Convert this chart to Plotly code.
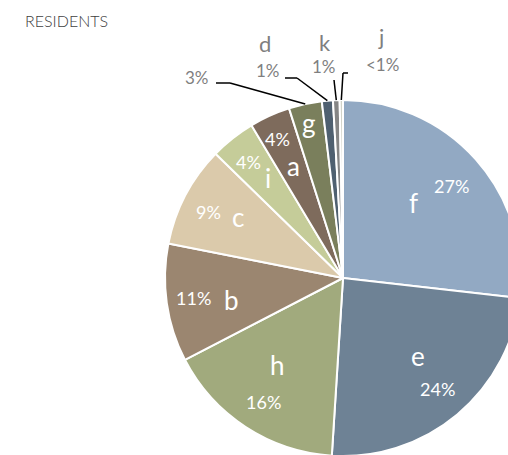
import math
import plotly.graph_objects as go

# ---- data ----
labels = ['f', 'e', 'h', 'b', 'c', 'i', 'a', 'g', 'd', 'k', 'j']
values = [26.8, 24.2, 16.4, 10.7, 9.2, 4.1, 3.7, 3.0, 1.0, 0.6, 0.3]
pct_labels = ['27%', '24%', '16%', '11%', '9%', '4%', '4%', '3%', '1%', '1%', '<1%']
title_text = 'RESIDENTS'

# ---- style / layout ----
colors = ['#92A9C3', '#6E8295', '#A1AA7D', '#9B8670', '#DBCAAB', '#C5CC99',
          '#7E6B5C', '#7A7F5C', '#4F6070', '#858585', '#D2D3C8']
W, H = 530, 460
CX, CY, R = 343, 278, 178
FONT = 'Lato'

# inside label placement: (angle shift deg, radial fraction)
inside_name = {'f': (-5, .58), 'e': (-4, .61), 'h': (3.7, .61), 'b': (-3, .64),
               'c': (2.5, .68), 'i': (1.4, .70), 'a': (0.4, .69), 'g': (0, .89)}
inside_pct = {'f': (1.3, .80), 'e': (-0.6, .82), 'h': (-0.5, .83), 'b': (0.5, .85),
              'c': (-1.7, .84), 'i': (-0.7, .84), 'a': (-0.9, .86)}
# outside labels: offsets (px) from pie centre
outside = {
    'g': dict(pct=(-146, -201), path=[(-113, -195), (-127, -195)]),
    'd': dict(name=(-78, -235), pct=(-75, -208), path=[(-46, -200), (-58, -200)]),
    'k': dict(name=(-18, -236), pct=(-19, -211), path=[(-9, -198)]),
    'j': dict(name=(38, -242), pct=(39, -213), path=[(0, -205), (5, -205)]),
}


def to_paper(px, py):
    return px / W, 1 - py / H


def polar(angle_deg, rho):
    a = math.radians(angle_deg)
    return CX + rho * R * math.sin(a), CY - rho * R * math.cos(a)


total = sum(values)
mids = {}
acc = 0
for lab, v in zip(labels, values):
    mids[lab] = (acc + v / 2) / total * 360
    acc += v

fig = go.Figure(go.Pie(
    labels=labels, values=values, sort=False, direction='clockwise', rotation=0,
    marker=dict(colors=colors, line=dict(color='white', width=2)),
    textinfo='none', showlegend=False, hoverinfo='label+percent',
    domain=dict(x=[(CX - R) / W, (CX + R) / W],
                y=[1 - (CY + R) / H, 1 - (CY - R) / H]),
))

annotations = []
shapes = []


def add_text(px, py, text, size, color):
    x, y = to_paper(px, py)
    annotations.append(dict(x=x, y=y, xref='paper', yref='paper', text=text,
                            showarrow=False, xanchor='center', yanchor='middle',
                            font=dict(family=FONT, size=size, color=color)))


for lab, pct in zip(labels, pct_labels):
    if lab in inside_name:
        da, rho = inside_name[lab]
        add_text(*polar(mids[lab] + da, rho), lab, 26, 'white')
    if lab in inside_pct:
        da, rho = inside_pct[lab]
        add_text(*polar(mids[lab] + da, rho), pct, 18, 'white')
    if lab in outside:
        o = outside[lab]
        if 'name' in o:
            add_text(CX + o['name'][0], CY + o['name'][1], lab, 22, '#7F7F7F')
        add_text(CX + o['pct'][0], CY + o['pct'][1], pct, 17, '#7F7F7F')
        pts = [polar(mids[lab], 1.0)] + [(CX + dx, CY + dy) for dx, dy in o['path']]
        for (x0, y0), (x1, y1) in zip(pts[:-1], pts[1:]):
            a0 = to_paper(x0, y0)
            a1 = to_paper(x1, y1)
            shapes.append(dict(type='line', xref='paper', yref='paper',
                               x0=a0[0], y0=a0[1], x1=a1[0], y1=a1[1],
                               line=dict(color='black', width=1.5)))

tx, ty = to_paper(25, 21)
fig.update_layout(
    width=W, height=H, autosize=False,
    margin=dict(l=0, r=0, t=0, b=0),
    paper_bgcolor='white', plot_bgcolor='white',
    title=dict(text=title_text, x=tx, y=ty, xanchor='left', yanchor='middle',
               xref='paper', yref='paper',
               font=dict(family=FONT, size=16, color='#404040', weight=300)),
    annotations=annotations, shapes=shapes,
)

fig.write_html("out.html", config={'displayModeBar': False}, post_script=[
    "document.body.style.margin='0';document.body.style.overflow='hidden';"
])
